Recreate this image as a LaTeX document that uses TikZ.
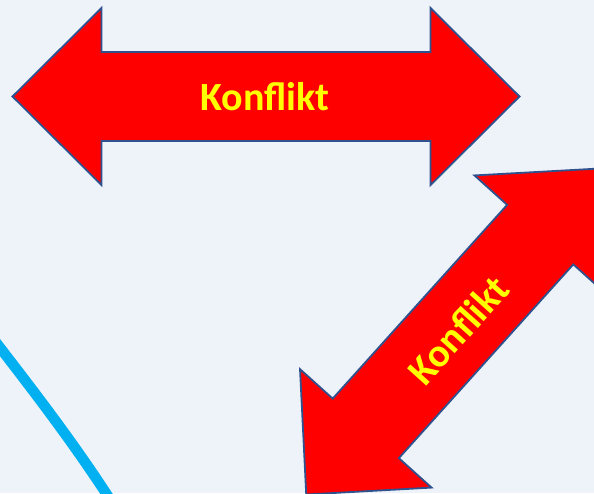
\documentclass[tikz,border=0pt]{standalone}
\usepackage{fontspec}
\setmainfont{Carlito}
\definecolor{bg}{HTML}{EEF3FA}
\definecolor{edge}{HTML}{2F528F}
\definecolor{arrowred}{HTML}{FF0000}
\definecolor{txtyellow}{HTML}{FFFF00}
\definecolor{curveblue}{HTML}{00B0F0}
\tikzset{
  redarrow/.style={fill=arrowred, draw=edge, line width=1.8pt, line join=miter},
  arrowlabel/.style={text=txtyellow, font=\bfseries\fontsize{40}{40}\selectfont, inner sep=0pt},
  bluecurve/.style={draw=curveblue, line width=10.5pt}
}
\newcommand{\dblarrowpath}[1]{%
  ({-(#1)-89},0) -- ({-(#1)},-88.5) -- ({-(#1)},-44.5) -- ({#1},-44.5) -- ({#1},-88.5) --
  ({(#1)+89},0) -- ({#1},88.5) -- ({#1},44.5) -- ({-(#1)},44.5) -- ({-(#1)},88.5) -- cycle}
\begin{document}
\begin{tikzpicture}[x=1pt,y=-1pt]
  \useasboundingbox (0,0) rectangle (594,493);
  \fill[bg] (0,0) rectangle (594,493);
  \clip (0,0) rectangle (594,493);
  % blue curve
  \draw[bluecurve] (-12,332) .. controls (28,384) and (72,440) .. (113,504);
  % top double arrow
  \begin{scope}[shift={(266,96.5)}]
    \path[redarrow] \dblarrowpath{164.5};
  \end{scope}
  \node[arrowlabel] (top) at (265,97) {Konflikt};
  % diagonal double arrow
  \begin{scope}[shift={(453,331.5)}, rotate=48]
    \path[redarrow] \dblarrowpath{130.35};
  \end{scope}
  \node[arrowlabel, rotate=48] (diag) at (458,330) {Konflikt};
\end{tikzpicture}
\end{document}
